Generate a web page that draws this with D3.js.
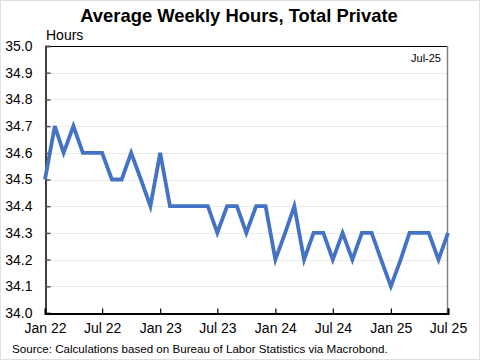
<!DOCTYPE html>
<html><head><meta charset="utf-8">
<script src="https://cdn.jsdelivr.net/npm/d3@7"></script>
<style>body{margin:0;background:#fff}svg{display:block}text{font-family:"Liberation Sans",Arial,sans-serif}</style>
</head><body><svg id="c" width="480" height="360"></svg>
<script>
const months = ["2022-01","2022-02","2022-03","2022-04","2022-05","2022-06","2022-07","2022-08","2022-09","2022-10","2022-11","2022-12",
"2023-01","2023-02","2023-03","2023-04","2023-05","2023-06","2023-07","2023-08","2023-09","2023-10","2023-11","2023-12",
"2024-01","2024-02","2024-03","2024-04","2024-05","2024-06","2024-07","2024-08","2024-09","2024-10","2024-11","2024-12",
"2025-01","2025-02","2025-03","2025-04","2025-05","2025-06","2025-07"];
const hours = [34.5,34.7,34.6,34.7,34.6,34.6,34.6,34.5,34.5,34.6,34.5,34.4,
34.6,34.4,34.4,34.4,34.4,34.4,34.3,34.4,34.4,34.3,34.4,34.4,
34.2,34.3,34.4,34.2,34.3,34.3,34.2,34.3,34.2,34.3,34.3,34.2,
34.1,34.2,34.3,34.3,34.3,34.2,34.3];
const xTickLabels = ["Jan 22","Jul 22","Jan 23","Jul 23","Jan 24","Jul 24","Jan 25","Jul 25"];
const yTicks = [34.0,34.1,34.2,34.3,34.4,34.5,34.6,34.7,34.8,34.9,35.0];

const svg = d3.select("#c");
const parse = d3.timeParse("%Y-%m");
const data = months.map((m,i)=>({d:parse(m),v:hours[i]}));
const L=45,R=448,T=46,B=313;
const x = d3.scaleTime().domain([parse("2022-01"),parse("2025-07")]).range([L,R]);
const y = d3.scaleLinear().domain([34.0,35.0]).range([B,T]);
const xTickDates = d3.range(0,43,6).map(i=>parse(months[i]));

svg.append("rect").attr("x",0.5).attr("y",0.5).attr("width",479).attr("height",359).attr("fill","#fff").attr("stroke","#e0e0e0");

// gridlines
svg.append("g").selectAll("line").data(yTicks.slice(1,-1)).join("line")
 .attr("x1",L).attr("x2",R).attr("y1",d=>Math.round(y(d))+0.5).attr("y2",d=>Math.round(y(d))+0.5)
 .attr("stroke","#ebebeb").attr("stroke-width",1);

// frame
svg.append("line").attr("x1",L).attr("x2",R).attr("y1",T+0.5).attr("y2",T+0.5).attr("stroke","#000");
svg.append("line").attr("x1",R-0.5).attr("x2",R-0.5).attr("y1",T).attr("y2",B).attr("stroke","#808080").attr("stroke-width",1.5);

// y axis
const ya = svg.append("g").attr("transform",`translate(${L+0.5},0)`)
 .call(d3.axisRight(y).tickValues(yTicks).tickSize(5).tickFormat(d3.format(".1f")));
ya.select(".domain").attr("stroke","#000").attr("stroke-width",1.5);
ya.selectAll(".tick line").attr("stroke","#555").attr("stroke-width",1.5);
ya.selectAll(".tick text").attr("x",-13).attr("text-anchor","end").attr("font-size",14).attr("fill","#000").attr("dy","0.32em");

// x axis
const xa = svg.append("g").attr("transform",`translate(0,${B+0.5})`)
 .call(d3.axisTop(x).tickValues(xTickDates).tickSize(5).tickFormat((d,i)=>xTickLabels[i]));
xa.select(".domain").attr("stroke","#000").attr("stroke-width",2);
xa.selectAll(".tick line").attr("stroke","#000").attr("stroke-width",1.2);
xa.selectAll(".tick text").attr("y",15).attr("font-size",14).attr("fill","#000").attr("dy","0.32em");

// line
svg.append("path").datum(data)
 .attr("d",d3.line().x(d=>x(d.d)).y(d=>y(d.v)))
 .attr("fill","none").attr("stroke","#4472c4").attr("stroke-width",3.8).attr("stroke-linejoin","miter");

// texts
svg.append("text").attr("x",239).attr("y",22).attr("text-anchor","middle").attr("font-size",18.4).attr("font-weight","bold").text("Average Weekly Hours, Total Private");
svg.append("text").attr("x",46).attr("y",40).attr("font-size",14).text("Hours");
svg.append("text").attr("x",441).attr("y",62).attr("text-anchor","end").attr("font-size",11).text("Jul-25");
svg.append("text").attr("x",12).attr("y",353).attr("font-size",11.6).text("Source: Calculations based on Bureau of Labor Statistics via Macrobond.");
</script></body></html>
